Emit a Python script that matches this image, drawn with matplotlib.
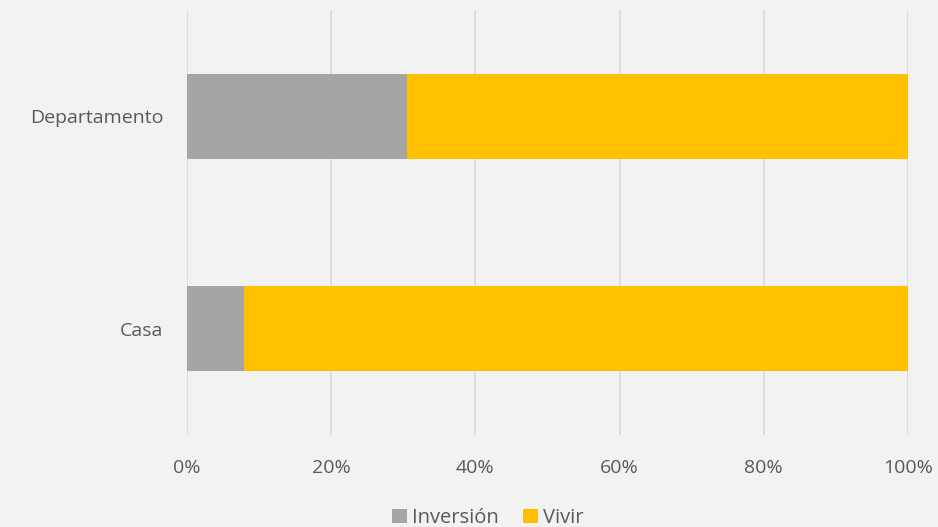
import matplotlib
matplotlib.use("Agg")
import matplotlib.pyplot as plt
import numpy as np

categories = ["Casa", "Departamento"]
inversion = [7.9, 30.5]
vivir = [92.1, 69.5]
series_names = ["Inversión", "Vivir"]
xticks = [0, 20, 40, 60, 80, 100]
xtick_labels = ["0%", "20%", "40%", "60%", "80%", "100%"]

plt.rcParams['font.family'] = ['Open Sans', 'DejaVu Sans']
bg = "#F2F2F2"
txt = "#595959"

fig = plt.figure(figsize=(9.38, 5.27), dpi=100, facecolor=bg)
W, H = 938, 527
ax = fig.add_axes([187 / W, 1 - 435 / H, (908 - 187) / W, (435 - 10) / H], facecolor=bg)

y = np.arange(len(categories))
h = 0.4
ax.barh(y, inversion, height=h, color="#A5A5A5", label=series_names[0], zorder=3)
ax.barh(y, vivir, left=inversion, height=h, color="#FFC000", label=series_names[1], zorder=3)

ax.set_xlim(0, 100)
ax.set_ylim(-0.5, 1.5)
ax.set_xticks(xticks)
ax.set_xticklabels(xtick_labels)
ax.set_yticks(y)
ax.set_yticklabels(categories)
ax.tick_params(axis="both", length=0, colors=txt, labelsize=14)
ax.tick_params(axis="x", pad=17)
ax.tick_params(axis="y", pad=17)
ax.grid(axis="x", color="#D9D9D9", linewidth=1.2, zorder=0)
for s in ax.spines.values():
    s.set_visible(False)

leg = fig.legend(loc="center", bbox_to_anchor=(488 / W, 1 - 518 / H), ncol=2, frameon=False,
                 fontsize=14.5, handlelength=0.75, handleheight=0.75, handletextpad=0.25,
                 columnspacing=1.2, labelcolor=txt)

fig.savefig("out.png", dpi=100, facecolor=bg)
